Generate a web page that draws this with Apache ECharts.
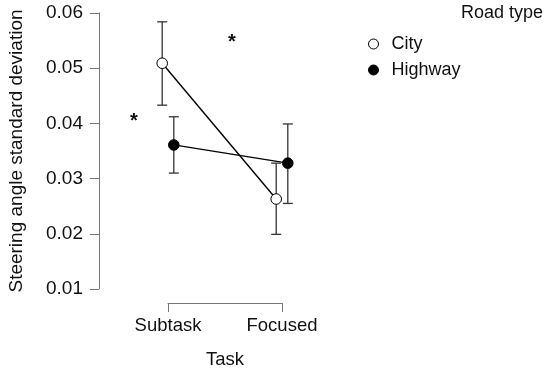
<!DOCTYPE html>
<html>
<head>
<meta charset="utf-8">
<script src="https://cdn.jsdelivr.net/npm/echarts@6/dist/echarts.min.js"></script>
<style>html,body{margin:0;padding:0;background:#fff}#c{width:550px;height:374px}</style>
</head>
<body>
<div id="c"></div>
<script>
const categories = ['Subtask', 'Focused'];
const roadTypes = ['City', 'Highway'];
const cityMean = [0.0509, 0.0263];
const cityLow = [0.0433, 0.0199];
const cityHigh = [0.0584, 0.0328];
const highwayMean = [0.0361, 0.0328];
const highwayLow = [0.0310, 0.0255];
const highwayHigh = [0.0412, 0.0399];
const yTicks = [0.01, 0.02, 0.03, 0.04, 0.05, 0.06];
const sigX = [-0.3, 0.56];
const sigY = [0.0403, 0.0547];
const sigText = ['*', '*'];

const FONT = 'Liberation Sans, Arial, Helvetica, sans-serif';
const chart = echarts.init(document.getElementById('c'), null, {renderer: 'canvas'});

function makeData(mean, low, high) {
  return categories.map((c, i) => [i, mean[i], low[i], high[i]]);
}

function groupRender(dodge, fill) {
  return function (params, api) {
    const children = [];
    const n = params.dataInsideLength;
    if (params.dataIndexInside === 0) {
      const pts = [];
      for (let k = 0; k < n; k++) {
        const p = api.coord([api.value(0, k), api.value(1, k)]);
        pts.push([p[0] + dodge, p[1]]);
      }
      children.push({type: 'polyline', shape: {points: pts}, style: {stroke: '#000', lineWidth: 1.4, fill: null}, z2: 1});
    }
    const x = api.value(0);
    const pm = api.coord([x, api.value(1)]);
    const pl = api.coord([x, api.value(2)]);
    const ph = api.coord([x, api.value(3)]);
    const cx = pm[0] + dodge;
    const es = {stroke: '#333', lineWidth: 1.3};
    children.push({type: 'line', shape: {x1: cx, y1: pl[1], x2: cx, y2: ph[1]}, style: es, z2: 2});
    children.push({type: 'line', shape: {x1: cx - 5, y1: pl[1], x2: cx + 5, y2: pl[1]}, style: es, z2: 2});
    children.push({type: 'line', shape: {x1: cx - 5, y1: ph[1], x2: cx + 5, y2: ph[1]}, style: es, z2: 2});
    children.push({type: 'circle', shape: {cx: cx, cy: pm[1], r: 5.3}, style: {fill: fill, stroke: '#000', lineWidth: 1}, z2: 3});
    return {type: 'group', children: children};
  };
}

const option = {
  backgroundColor: '#fff',
  animation: false,
  textStyle: {fontFamily: FONT},
  title: {
    text: 'Road type', right: 7, top: 4, padding: 0,
    textStyle: {fontSize: 18, fontWeight: 'normal', color: '#111', fontFamily: FONT}
  },
  legend: {
    orient: 'vertical', left: 368, top: 35, padding: 0,
    itemWidth: 10, itemHeight: 10, itemGap: 8,
    textStyle: {fontSize: 18, color: '#111', fontFamily: FONT, padding: [0, 0, 0, 8]},
    data: [
      {name: roadTypes[0], icon: 'circle', itemStyle: {color: '#fff', borderColor: '#000', borderWidth: 1}},
      {name: roadTypes[1], icon: 'circle', itemStyle: {color: '#000', borderColor: '#000', borderWidth: 1}}
    ]
  },
  grid: {left: 168, width: 114, top: 13, height: 276},
  xAxis: [
    {
      type: 'category', data: categories, boundaryGap: false, offset: 14,
      axisLine: {show: true, onZero: false, lineStyle: {color: '#777', width: 1}},
      axisTick: {show: true, length: 9, alignWithLabel: true, lineStyle: {color: '#777', width: 1}},
      axisLabel: {fontSize: 18.5, color: '#111', margin: 13, fontFamily: FONT},
      splitLine: {show: false},
      name: 'Task', nameLocation: 'middle', nameGap: 47,
      nameTextStyle: {fontSize: 18.5, color: '#111', fontFamily: FONT}
    },
    {type: 'value', min: 0, max: 1, show: false, axisLine: {onZero: false}}
  ],
  yAxis: {
    type: 'value', min: 0.01, max: 0.06, interval: 0.01, offset: 69,
    axisLine: {show: true, onZero: false, lineStyle: {color: '#777', width: 1}},
    axisTick: {show: true, length: 9, lineStyle: {color: '#777', width: 1}},
    splitLine: {show: false},
    axisLabel: {
      fontSize: 19, color: '#111', margin: 16, fontFamily: FONT,
      formatter: v => (yTicks.find(t => Math.abs(t - v) < 1e-9) || v).toFixed(2)
    },
    name: 'Steering angle standard deviation', nameLocation: 'middle', nameGap: 73,
    nameTextStyle: {fontSize: 19, color: '#111', fontFamily: FONT}
  },
  series: [
    {
      name: roadTypes[0], type: 'custom', xAxisIndex: 1, clip: false,
      itemStyle: {color: '#fff', borderColor: '#000'},
      renderItem: groupRender(-5.8, '#fff'),
      data: makeData(cityMean, cityLow, cityHigh)
    },
    {
      name: roadTypes[1], type: 'custom', xAxisIndex: 1, clip: false,
      itemStyle: {color: '#000'},
      renderItem: groupRender(5.8, '#000'),
      data: makeData(highwayMean, highwayLow, highwayHigh)
    },
    {
      name: 'sig', type: 'custom', xAxisIndex: 1, clip: false,
      renderItem: function (params, api) {
        const p = api.coord([api.value(0), api.value(1)]);
        return {type: 'text', x: p[0], y: p[1], style: {text: sigText[params.dataIndex], fontSize: 20, fontWeight: 'bold', fill: '#111', align: 'center', verticalAlign: 'middle', fontFamily: FONT}};
      },
      data: sigX.map((x, i) => [x, sigY[i]])
    }
  ]
};
chart.setOption(option);
</script>
</body>
</html>
